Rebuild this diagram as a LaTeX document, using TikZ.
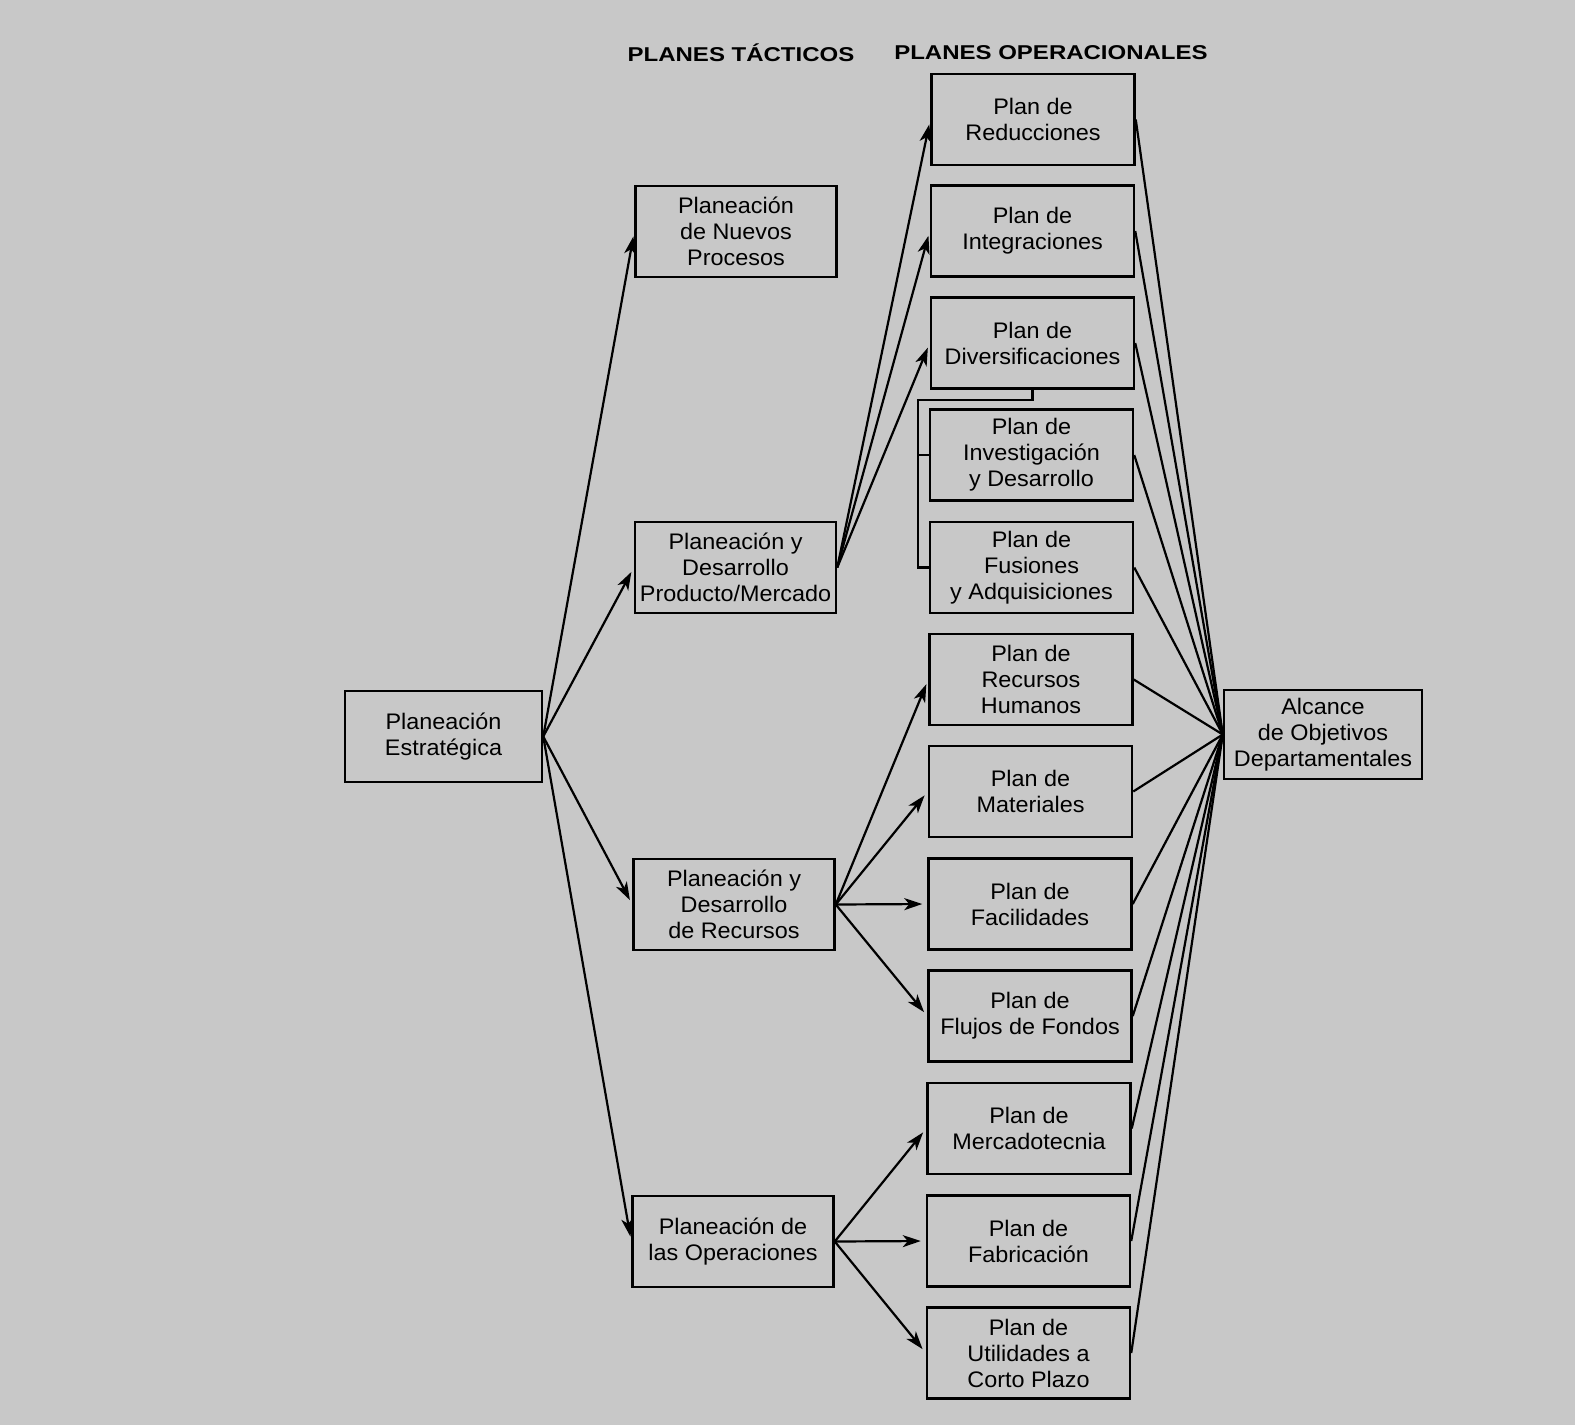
\documentclass[tikz,border=0pt]{standalone}
\usepackage{fontspec}
\setmainfont{Liberation Sans}[FakeStretch=1.04]
\newfontfamily\hdrfont[FakeStretch=1.2]{Liberation Sans}
\usetikzlibrary{arrows.meta,calc}
\definecolor{bg}{RGB}{200,200,200}
\begin{document}
\begin{tikzpicture}[x=1pt,y=-1pt,
  box/.style={draw=black, line width=2.5pt, fill=bg, align=center, inner sep=0pt,
    font=\fontsize{22.5}{26}\selectfont, minimum height=91pt},
  tbox/.style={box, minimum width=201pt},
  obox/.style={box, minimum width=203pt},
  arr/.style={line width=2.2pt, -{Stealth[length=18pt,width=12pt,inset=5pt]}, shorten >=5pt},
  conn/.style={line width=2.2pt},
  hdr/.style={font=\hdrfont\bfseries\fontsize{20}{22}\selectfont, inner sep=0pt}]
\fill[bg] (0,0) rectangle (1575,1425);
\useasboundingbox (0,0) rectangle (1575,1425);

\node[hdr] (h1) at (741,53) {PLANES TÁCTICOS};
\node[hdr] (h2) at (1051,53) {PLANES OPERACIONALES};

\node[box, minimum width=197pt] (est) at (443.5,736.5) {Planeación\\Estratégica};

\node[tbox] (np) at (736,231.5) {Planeación\\de Nuevos\\Procesos};
\node[tbox] (pm) at (735.5,567.5) {Planeación y\\Desarrollo\\Producto/Mercado};
\node[tbox] (rec) at (734,904.5) {Planeación y\\Desarrollo\\de Recursos};
\node[tbox] (ope) at (733,1241.5) {Planeación de\\las Operaciones};

\node[obox] (red) at (1033,119.5) {Plan de\\Reducciones};
\node[obox] (int) at (1032.5,231) {Plan de\\Integraciones};
\node[obox] (div) at (1032.5,343) {Plan de\\Diversificaciones};
\node[obox] (id) at (1031.5,455) {Plan de\\Investigación\\y Desarrollo};
\node[obox] (fus) at (1031.5,567.5) {Plan de\\Fusiones\\y Adquisiciones};
\node[obox] (rh) at (1031,679.5) {Plan de\\Recursos\\Humanos};
\node[obox] (mat) at (1030.5,791.5) {Plan de\\Materiales};
\node[obox] (fac) at (1030,904) {Plan de\\Facilidades};
\node[obox] (flu) at (1030,1016) {Plan de\\Flujos de Fondos};
\node[obox] (mer) at (1029,1128.5) {Plan de\\Mercadotecnia};
\node[obox] (fab) at (1028.5,1241) {Plan de\\Fabricación};
\node[obox] (uti) at (1028.5,1353) {Plan de\\Utilidades a\\Corto Plazo};

\node[box, minimum width=198pt, minimum height=89pt] (alc) at (1323,734.5) {Alcance\\de Objetivos\\Departamentales};

\foreach \t in {np,pm,rec,ope} \draw[arr] (est.east) -- (\t.west);
\foreach \t in {red,int,div} \draw[arr] (pm.east) -- (\t.west);
\foreach \t in {rh,mat,fac,flu} \draw[arr] (rec.east) -- (\t.west);
\foreach \t in {mer,fab,uti} \draw[arr] (ope.east) -- (\t.west);
\foreach \t in {red,int,div,id,fus,rh,mat,fac,flu,mer,fab,uti} \draw[conn] (\t.east) -- (alc.west);

\coordinate (bt) at ([yshift=-10pt]div.south);
\coordinate (bb) at ([xshift=-11pt]fus.west);
\draw[conn] (div.south) -- (bt) -| (bb) -- (fus.west);
\draw[conn] ([xshift=-11pt]id.west) -- (id.west);
\end{tikzpicture}
\end{document}
